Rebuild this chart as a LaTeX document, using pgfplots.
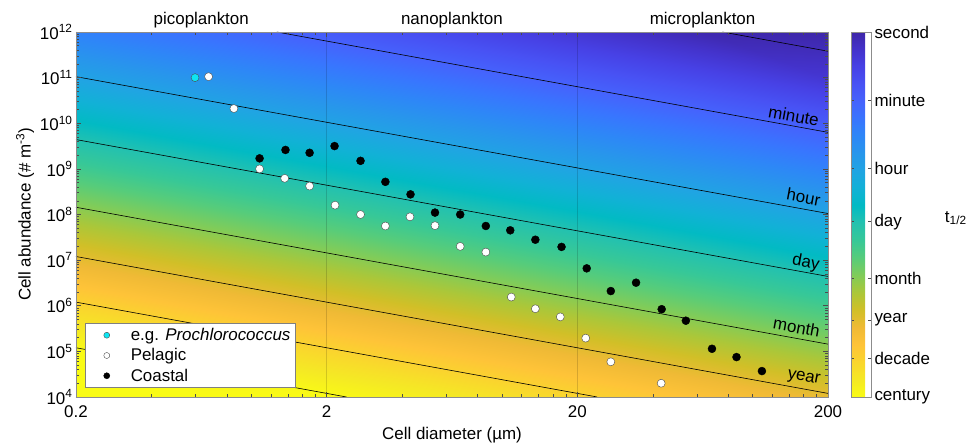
\documentclass[border=0pt]{standalone}
\usepackage{fontspec}
\setmainfont{Liberation Sans}
\usepackage{pgfplots}
\pgfplotsset{compat=1.18}

\newcommand{\fs}{\fontsize{17}{20.4}\selectfont}
\definecolor{procc}{rgb}{0.05,0.9,0.95}

\pgfplotsset{
  colormap={parula}{
    rgb=(0.2422,0.1504,0.6603) rgb=(0.2647,0.1978,0.7952) rgb=(0.2783,0.2559,0.8991)
    rgb=(0.2810,0.3228,0.9579) rgb=(0.2699,0.3892,0.9906) rgb=(0.2206,0.4603,0.9973)
    rgb=(0.1786,0.5289,0.9682) rgb=(0.1540,0.5902,0.9218) rgb=(0.1248,0.6459,0.8883)
    rgb=(0.0689,0.6948,0.8394) rgb=(0.0067,0.7312,0.7660) rgb=(0.1408,0.7584,0.6842)
    rgb=(0.2161,0.7843,0.5923) rgb=(0.3406,0.8008,0.4789) rgb=(0.5044,0.7993,0.3480)
    rgb=(0.6720,0.7793,0.2227) rgb=(0.8203,0.7498,0.1535) rgb=(0.9393,0.7288,0.2100)
    rgb=(0.9970,0.7659,0.2199) rgb=(0.9786,0.8386,0.1766) rgb=(0.9597,0.9135,0.1423)
    rgb=(0.9769,0.9839,0.0805)
  }
}

% log10 of half-life (s) on a grid, read from the contour positions
\pgfplotstableread{
d n t
0.2 1e4 9.5
0.6325 1e4 9.5
2 1e4 9.5
6.325 1e4 9.079
20 1e4 8.579
63.25 1e4 8.079
200 1e4 7.579
0.2 1e5 9.5
0.6325 1e5 9.079
2 1e5 8.579
6.325 1e5 8.079
20 1e5 7.579
63.25 1e5 7.079
200 1e5 6.579
0.2 1e6 8.579
0.6325 1e6 8.079
2 1e6 7.579
6.325 1e6 7.079
20 1e6 6.579
63.25 1e6 6.079
200 1e6 5.579
0.2 1e7 7.579
0.6325 1e7 7.079
2 1e7 6.579
6.325 1e7 6.079
20 1e7 5.579
63.25 1e7 5.079
200 1e7 4.579
0.2 1e8 6.579
0.6325 1e8 6.079
2 1e8 5.579
6.325 1e8 5.079
20 1e8 4.579
63.25 1e8 4.079
200 1e8 3.579
0.2 1e9 5.579
0.6325 1e9 5.079
2 1e9 4.579
6.325 1e9 4.079
20 1e9 3.579
63.25 1e9 3.079
200 1e9 2.579
0.2 1e10 4.579
0.6325 1e10 4.079
2 1e10 3.579
6.325 1e10 3.079
20 1e10 2.579
63.25 1e10 2.079
200 1e10 1.579
0.2 1e11 3.579
0.6325 1e11 3.079
2 1e11 2.579
6.325 1e11 2.079
20 1e11 1.579
63.25 1e11 1.079
200 1e11 0.579
0.2 1e12 2.579
0.6325 1e12 2.079
2 1e12 1.579
6.325 1e12 1.079
20 1e12 0.579
63.25 1e12 0.079
200 1e12 0
}\fieldtab

\pgfplotstableread{
d n
0.676 1.05e11
0.853 2.1e10
1.08 1.0e9
1.36 6.2e8
1.71 4.2e8
2.16 1.6e8
2.73 1.0e8
3.43 5.6e7
4.30 8.9e7
5.41 5.7e7
6.82 2.0e7
8.63 1.5e7
10.9 1.55e6
13.6 8.6e5
17.1 5.7e5
21.6 1.95e5
27.2 5.9e4
43.2 2.0e4
}\pelagic

\pgfplotstableread{
d n
1.08 1.7e9
1.37 2.6e9
1.71 2.25e9
2.15 3.16e9
2.73 1.5e9
3.43 5.2e8
4.32 2.76e8
5.41 1.1e8
6.82 1.0e8
8.63 5.6e7
10.8 4.5e7
13.6 2.8e7
17.3 1.95e7
21.8 6.6e6
27.2 2.1e6
34.3 3.2e6
43.4 8.4e5
54.2 4.7e5
68.9 1.14e5
86.3 7.5e4
109 3.7e4
}\coastal

\begin{document}
\begin{tikzpicture}
\path[use as bounding box] (-76bp,-49bp) rectangle (896bp,397bp);
\begin{axis}[
  scale only axis, width=752bp, height=365bp,
  at={(0,0)}, anchor=south west,
  xmode=log, ymode=log,
  xmin=0.2, xmax=200, ymin=1e4, ymax=1e12,
  xtick={0.2,2,20,200}, xticklabels={0.2,2,20,200},
  ytick={1e4,1e5,1e6,1e7,1e8,1e9,1e10,1e11,1e12},
  yticklabels={10\textsuperscript{4},10\textsuperscript{5},10\textsuperscript{6},10\textsuperscript{7},10\textsuperscript{8},10\textsuperscript{9},10\textsuperscript{10},10\textsuperscript{11},10\textsuperscript{12}},
  minor xtick={}, minor ytick={},
  tick align=inside, major tick length=5bp,
  tick style={black!70, line width=0.5bp},
  axis line style={black!45, line width=0.5bp},
  ticklabel style={font=\fs},
  xticklabel style={yshift=-5bp},
  xlabel={Cell diameter (µm)},
  ylabel={Cell abundance (\# m\textsuperscript{-3})},
  label style={font=\fs},
  xlabel style={at={(axis description cs:0.5,-0.104)}, anchor=center},
  ylabel style={at={(axis description cs:-0.0678,0.5)}, anchor=center},
  axis on top, clip=false,
  colormap name=parula,
  point meta min=0, point meta max=9.5,
  colorbar,
  colorbar style={
    scale only axis, width=20bp, height=365bp,
    at={(parent axis.north east)}, anchor=north west, xshift=14.5bp,
    y dir=reverse,
    ytick={0,1.778,3.556,4.937,6.42,7.499,8.499,9.499},
    yticklabels={second,minute,hour,day,month,year,decade,century},
    yticklabel style={font=\fs},
    tick align=inside, major tick length=3bp,
    tick style={black!70, line width=0.5bp},
    axis line style={black!45, line width=0.5bp},
  },
  legend style={at={(0.012,0.025)}, anchor=south west, draw=black!50,
    line width=0.5bp, font=\fs, row sep=2.5bp, inner xsep=2.5bp, inner ysep=3bp},
  legend cell align=left,
  legend image code/.code={
    \path[draw=none, fill=none] (0bp,-1bp) rectangle (41bp,1bp);
    \draw[#1, mark size=3bp] plot coordinates {(19bp,0bp)};
  },
]
\addplot[surf, shader=interp, mesh/cols=7, point meta=explicit, forget plot]
  table[x=d, y=n, meta=t] {\fieldtab};

% size class boundaries
\addplot[black, opacity=0.15, line width=0.6bp, forget plot] coordinates {(2,1e4) (2,1e12)};
\addplot[black, opacity=0.15, line width=0.6bp, forget plot] coordinates {(20,1e4) (20,1e12)};

% half-life contours: second, minute, hour, day, month, year, decade, century
\addplot[black, line width=0.6bp, forget plot] coordinates {(75.9,1e12) (200,3.79e11)};
\addplot[black, line width=0.6bp, forget plot] coordinates {(1.265,1e12) (200,6.32e9)};
\addplot[black, line width=0.6bp, forget plot] coordinates {(0.2,1.05e11) (200,1.05e8)};
\addplot[black, line width=0.6bp, forget plot] coordinates {(0.2,4.39e9) (200,4.39e6)};
\addplot[black, line width=0.6bp, forget plot] coordinates {(0.2,1.44e8) (200,1.44e5)};
\addplot[black, line width=0.6bp, forget plot] coordinates {(0.2,1.20e7) (200,1.20e4)};
\addplot[black, line width=0.6bp, forget plot] coordinates {(0.2,1.20e6) (24.0,1e4)};
\addplot[black, line width=0.6bp, forget plot] coordinates {(0.2,1.20e5) (2.40,1e4)};

\addplot[only marks, mark=*, mark size=4bp, mark options={fill=procc, draw=black!70, line width=0.4bp}]
  coordinates {(0.597,1.0e11)};
\addlegendentry{e.g. \textit{Prochlorococcus}}
\addplot[only marks, mark=*, mark size=4bp, mark options={fill=white, draw=black!70, line width=0.4bp}]
  table[x=d, y=n] {\pelagic};
\addlegendentry{Pelagic}
\addplot[only marks, mark=*, mark size=4bp, mark options={fill=black, draw=black}]
  table[x=d, y=n] {\coastal};
\addlegendentry{Coastal}

\node[font=\fs, anchor=base] at (axis cs:0.632,1e12) [yshift=7bp] {picoplankton};
\node[font=\fs, anchor=base] at (axis cs:6.32,1e12) [yshift=7bp] {nanoplankton};
\node[font=\fs, anchor=base] at (axis cs:63.2,1e12) [yshift=7bp] {microplankton};

\node[font=\fs, rotate=-10.3] at (axis cs:146,1.44e10) {minute};
\node[font=\fs, rotate=-10.3] at (axis cs:160,2.41e8) {hour};
\node[font=\fs, rotate=-10.3] at (axis cs:163,8.6e6) {day};
\node[font=\fs, rotate=-10.3] at (axis cs:150,3.4e5) {month};
\node[font=\fs, rotate=-10.3] at (axis cs:160,2.58e4) {year};

\node[font=\fs] at (rel axis cs:1.170,0.490) {t\textsubscript{1/2}};
\end{axis}
\end{tikzpicture}
\end{document}
